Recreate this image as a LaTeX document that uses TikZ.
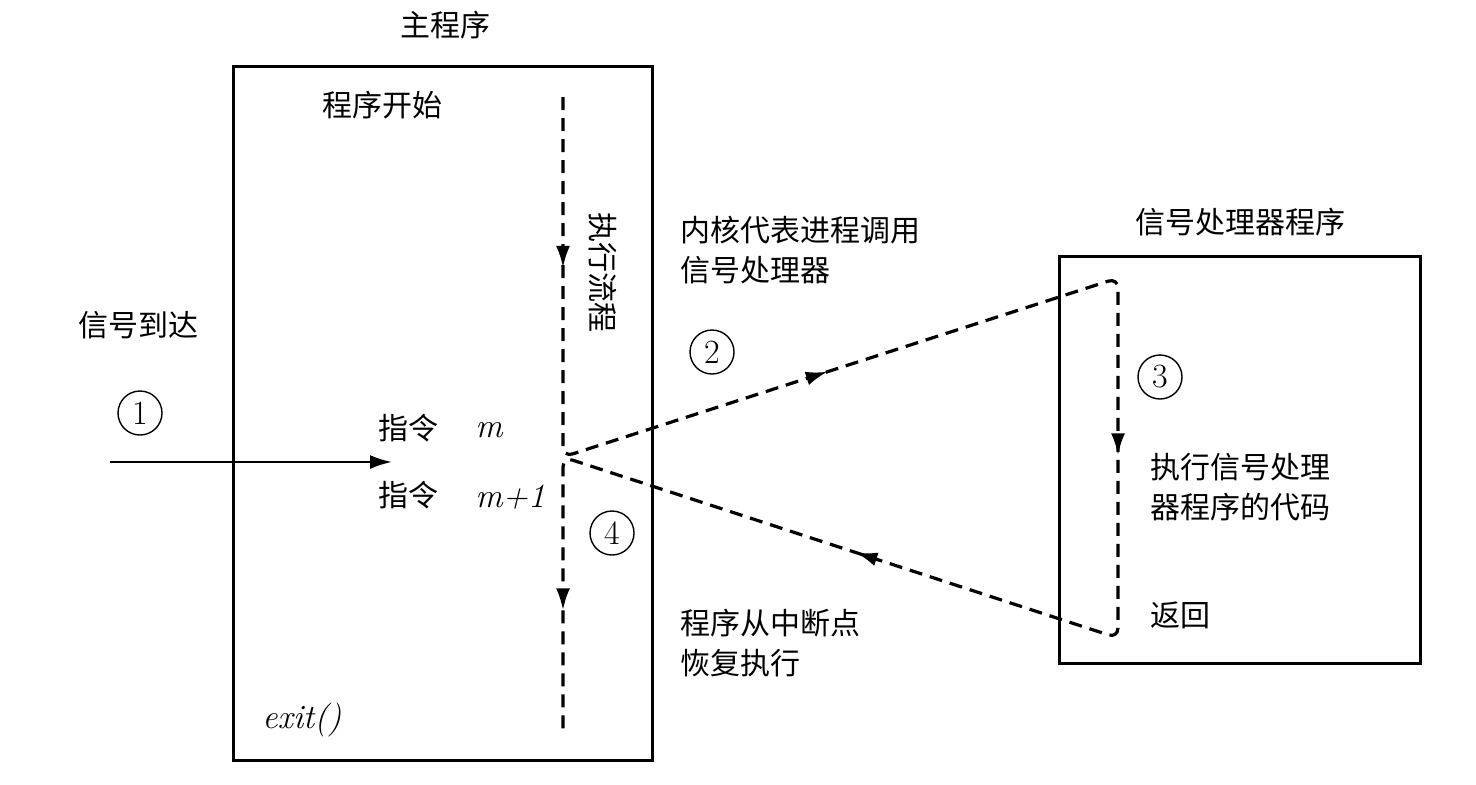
\documentclass[tikz,border=0pt]{standalone}
\usepackage{fontspec}
\newfontfamily\cjk{Noto Sans CJK SC}
\usetikzlibrary{arrows.meta,decorations.markings}

\begin{document}
\begin{tikzpicture}[x=0.5pt,y=-0.5pt,
  box/.style={draw,line width=1.5pt},
  txt/.style={font=\cjk\fontsize{15}{20}\selectfont,align=left,inner sep=0pt,anchor=west},
  lat/.style={font=\rmfamily\itshape\fontsize{17}{20}\selectfont,inner sep=0pt,anchor=west},
  num/.style={draw,circle,line width=0.7pt,minimum size=22pt,inner sep=0pt,font=\fontsize{17}{17}\selectfont},
  tip/.style={-{Latex[length=11pt,width=7pt]}},
  flow/.style={line width=1.6pt,dash pattern=on 6.5pt off 4pt,rounded corners=5pt,
    postaction=decorate,decoration={markings,
      mark=at position 0.08 with {\arrow{Latex[length=11pt,width=7pt]}},
      mark=at position 0.296 with {\arrow{Latex[length=11pt,width=7pt]}},
      mark=at position 0.519 with {\arrow{Latex[length=11pt,width=7pt]}},
      mark=at position 0.731 with {\arrow{Latex[length=11pt,width=7pt]}},
      mark=at position 0.944 with {\arrow{Latex[length=11pt,width=7pt]}}}}]
  \useasboundingbox (0,0) rectangle (1476,784);

  % boxes
  \draw[box] (233,66) rectangle (652,760);
  \draw[box] (1059,256) rectangle (1420,663);
  \node[txt,anchor=center] (main) at (445,25) {主程序};
  \node[txt,anchor=center] (handler) at (1240,222) {信号处理器程序};

  % texts
  \node[txt] (start) at (322,105) {程序开始};
  \node[txt] (arrive) at (78,325) {信号到达};
  \node[txt] (insm) at (378,428) {指令};
  \node[lat] (m) at (475,430) {m};
  \node[txt] (insm1) at (378,495) {指令};
  \node[lat] (m1) at (475,497) {m+1};
  \node[lat] (exit) at (262,720) {exit()};
  \node[txt,anchor=center,rotate=-90] (flowtxt) at (603,272) {执行流程};
  \node[txt] (kernel) at (680,250) {内核代表进程调用\\信号处理器};
  \node[txt] (code) at (1150,487) {执行信号处理\\器程序的代码};
  \node[txt] (ret) at (1150,615) {返回};
  \node[txt] (resume) at (680,643) {程序从中断点\\恢复执行};

  % numbers
  \foreach \n/\x/\y in {1/140/413,2/712/352,3/1160/377,4/612/533} {
    \node[num] (n\n) at (\x,\y) {\n};
  }

  % signal arrives
  \coordinate (sigA) at (110,462);
  \coordinate (sigB) at (392,462);
  \draw[tip,line width=1.2pt] (sigA) -- (sigB);

  % execution flow
  \coordinate (top) at (563,97);
  \coordinate (j) at (563,457);
  \coordinate (h1) at (1118,278);
  \coordinate (h2) at (1118,638);
  \coordinate (bot) at (563,730);
  \draw[flow] (top) -- (j) -- (h1) -- (h2) -- (j) -- (bot);
\end{tikzpicture}
\end{document}
